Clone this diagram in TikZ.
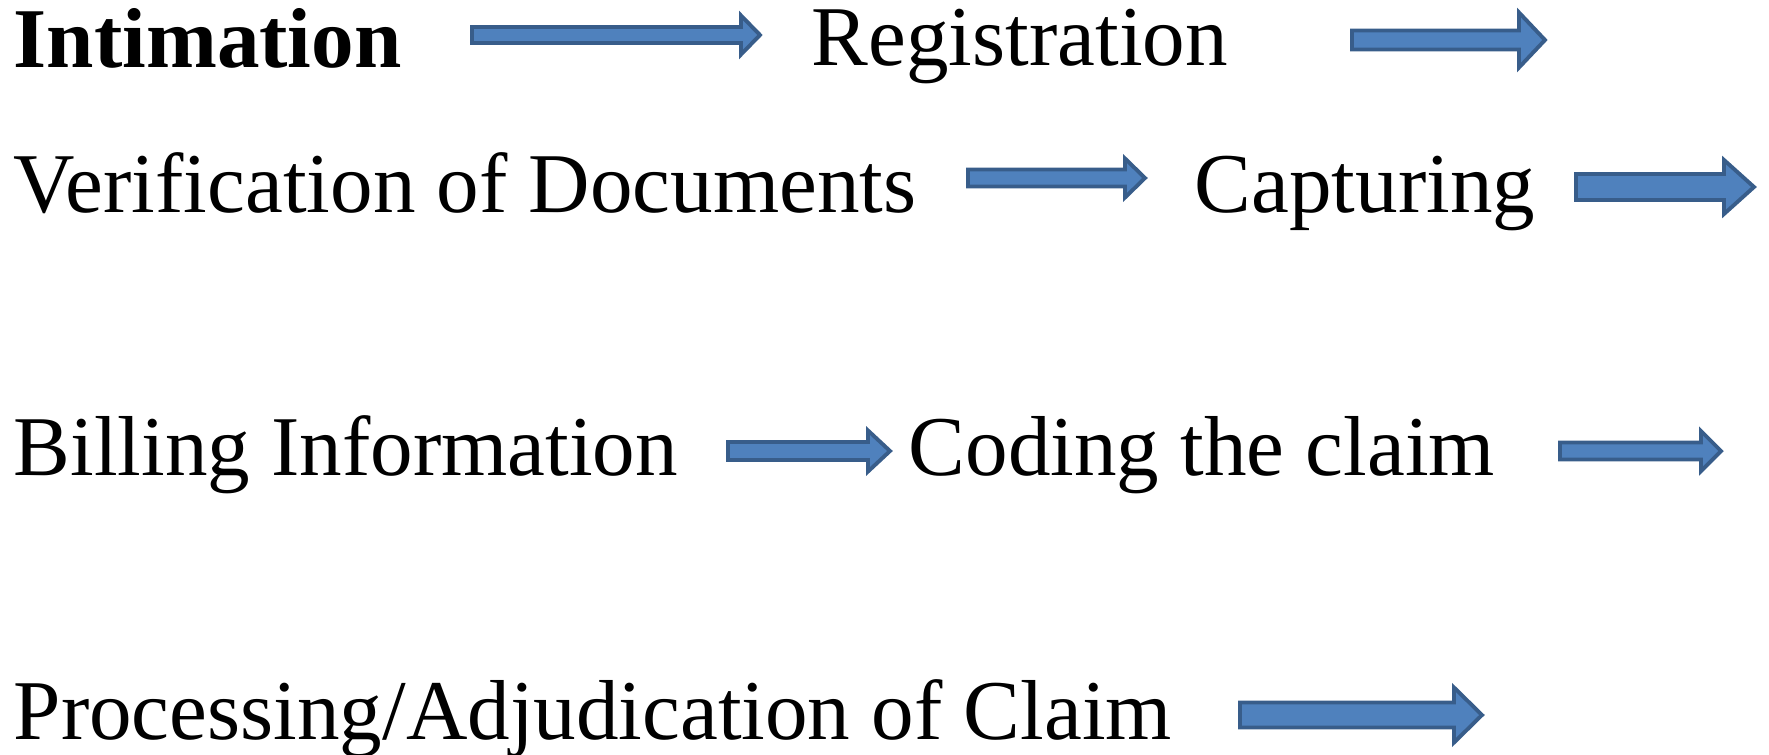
\documentclass[tikz,border=0pt]{standalone}
\usepackage{fontspec}
\setmainfont{Liberation Serif}
\usetikzlibrary{calc}
\definecolor{arrowfill}{HTML}{4F81BD}
\definecolor{arrowline}{HTML}{385D8A}
\tikzstyle{stagetext} = [anchor=base west, inner sep=0pt, font=\fontsize{24.2pt}{29pt}\selectfont]
\tikzstyle{blockarrow} = [fill=arrowfill, draw=arrowline, line width=1.1pt, line join=miter]
% block arrow between two named coordinates: shaft half width, head half width, head length
\newcommand{\blockarrow}[5]{%
  \draw [blockarrow] ($(#1)+(0,-#3)$) -- ($(#2)+(-#5,-#3)$) -- ($(#2)+(-#5,-#4)$)
    -- (#2) -- ($(#2)+(-#5,#4)$) -- ($(#2)+(-#5,#3)$) -- ($(#1)+(0,#3)$) -- cycle;}

\begin{document}
\begin{tikzpicture}[x=0.01cm, y=-0.01cm]
\useasboundingbox (0,0) rectangle (1769,754);

\node (intimation) [stagetext] at (13,67) {\textbf{Intimation}};
\node (registration) [stagetext] at (811,65) {Registration};
\node (verification) [stagetext] at (13,212) {Verification of Documents};
\node (capturing) [stagetext] at (1194,212) {Capturing};
\node (billing) [stagetext] at (13,475) {Billing Information};
\node (coding) [stagetext] at (908,475) {Coding the claim};
\node (processing) [stagetext] at (13,739) {Processing/Adjudication of Claim};

\coordinate (a1from) at (472,35);   \coordinate (a1to) at (760,35);
\coordinate (a2from) at (1352,40);  \coordinate (a2to) at (1545,40);
\coordinate (a3from) at (968,178);  \coordinate (a3to) at (1145,178);
\coordinate (a4from) at (1576,187); \coordinate (a4to) at (1754,187);
\coordinate (a5from) at (728,451);  \coordinate (a5to) at (890,451);
\coordinate (a6from) at (1560,451); \coordinate (a6to) at (1721,451);
\coordinate (a7from) at (1240,715); \coordinate (a7to) at (1482,715);

\blockarrow{a1from}{a1to}{8}{19.5}{19}
\blockarrow{a2from}{a2to}{9.5}{27.5}{26}
\blockarrow{a3from}{a3to}{8.5}{19.5}{20}
\blockarrow{a4from}{a4to}{13}{27}{30}
\blockarrow{a5from}{a5to}{9}{20.5}{22}
\blockarrow{a6from}{a6to}{8.5}{20}{20}
\blockarrow{a7from}{a7to}{12.5}{27.5}{28}
\end{tikzpicture}
\end{document}
